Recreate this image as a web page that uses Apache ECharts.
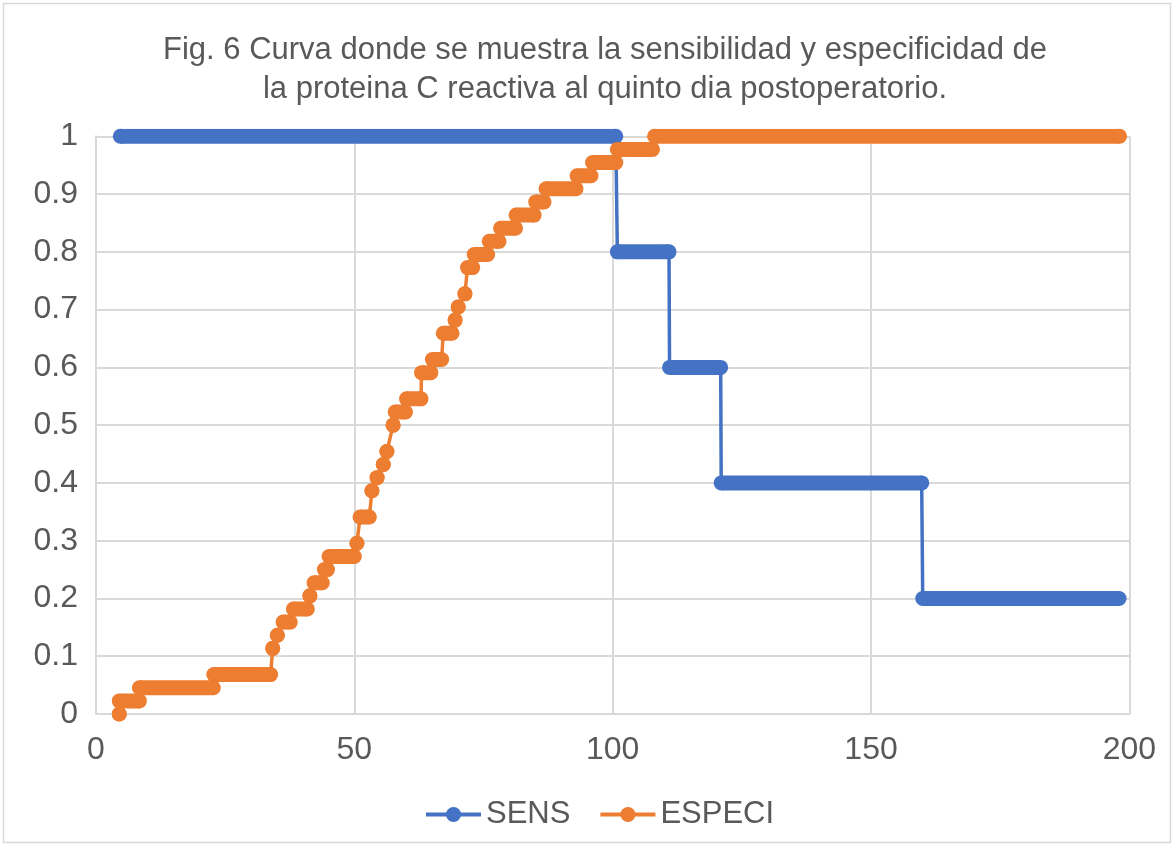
<!DOCTYPE html>
<html>
<head>
<meta charset="utf-8">
<script src="https://cdn.jsdelivr.net/npm/echarts@6/dist/echarts.min.js"></script>
<style>
html,body{margin:0;padding:0;background:#fff;}
#c{width:1175px;height:847px;}
</style>
</head>
<body>
<div id="c"></div>
<script>
// ---- data (CRP cutoff, level runs) ----
const titleLines = ['Fig. 6 Curva donde se muestra la sensibilidad y especificidad de',
                    'la proteina C reactiva al quinto dia postoperatorio.'];
const seriesNames = ['SENS', 'ESPECI'];
const xTicks = [0, 50, 100, 150, 200];
const yTicks = [0, 0.1, 0.2, 0.3, 0.4, 0.5, 0.6, 0.7, 0.8, 0.9, 1];

// SENS: each run = [from, to] at a level
const sensFrom  = [4.7, 100.9, 111.0, 121.0, 160.0];
const sensTo    = [100.6, 110.9, 120.9, 159.8, 198.0];
const sensLevel = [1, 0.8, 0.6, 0.4, 0.2];

// ESPECI
const especiFrom  = [4.5, 4.5, 8.4, 22.8, 34.2, 35.1, 36.2, 38.2, 41.4, 42.2, 44.2, 45.1, 50.5, 51.1, 53.4, 54.4, 55.6, 56.3, 57.5, 57.9, 60.1, 63.0, 65.1, 67.2, 69.5, 70.1, 71.4, 71.9, 73.2, 76.1, 78.3, 81.3, 85.1, 87.1, 93.1, 96.1, 100.9, 108.1];
const especiTo    = [4.5, 8.4, 22.7, 33.8, 34.2, 35.1, 37.6, 40.9, 41.4, 43.8, 44.8, 50.0, 50.5, 52.9, 53.4, 54.4, 55.6, 56.3, 57.5, 59.9, 62.9, 64.8, 66.9, 68.9, 69.5, 70.1, 71.4, 72.9, 75.8, 78.0, 81.2, 84.8, 86.7, 92.9, 95.8, 100.6, 107.7, 198.1];
const especiLevel = [0, 0.0227, 0.0455, 0.0682, 0.1136, 0.1364, 0.1591, 0.1818, 0.2045, 0.2273, 0.25, 0.2727, 0.2955, 0.3409, 0.3864, 0.4091, 0.4318, 0.4545, 0.5, 0.5227, 0.5455, 0.5909, 0.6136, 0.6591, 0.6818, 0.7045, 0.7273, 0.7727, 0.7955, 0.8182, 0.8409, 0.8636, 0.8864, 0.9091, 0.9318, 0.9545, 0.9773, 1];

const BLUE = '#4472C4', ORANGE = '#ED7D31', TXT = '#595959';
const FONT = '"Liberation Sans", Arial, sans-serif';

function pathPoints(from, to, lev) {
  const pts = [];
  for (let i = 0; i < from.length; i++) { pts.push([from[i], lev[i]]); pts.push([to[i], lev[i]]); }
  return pts;
}
function runPoints(from, to, lev) {
  const pts = [];
  for (let i = 0; i < from.length; i++) { pts.push([from[i], lev[i]]); pts.push([to[i], lev[i]]); pts.push([to[i], '-']); }
  return pts;
}
function thin(name, color, data) {
  return { name, type: 'line', data, symbol: 'circle', showSymbol: false, connectNulls: false,
    lineStyle: { color, width: 3.5 }, itemStyle: { color }, animation: false, silent: true };
}
function thick(name, color, data) {
  return { name, type: 'line', data, symbol: 'circle', symbolSize: 15, showSymbol: true, connectNulls: false,
    lineStyle: { color, width: 15, cap: 'butt' }, itemStyle: { color, borderWidth: 0 }, animation: false, silent: true };
}

const chart = echarts.init(document.getElementById('c'), null, { renderer: 'canvas' });
chart.setOption({
  backgroundColor: '#fff',
  animation: false,
  title: {
    text: titleLines.join('\n'),
    left: 600, top: 26, textAlign: 'center',
    textStyle: { fontFamily: FONT, fontSize: 31, fontWeight: 'normal', color: TXT, lineHeight: 39 }
  },
  graphic: [{ type: 'rect', shape: { x: 3.5, y: 3.5, width: 1167, height: 839 },
    style: { fill: 'none', stroke: '#d9d9d9', lineWidth: 1.5 }, silent: true, z: -1 }],
  legend: {
    data: seriesNames, left: 419, top: 794, itemWidth: 55, itemHeight: 19, itemGap: 28,
    lineStyle: { width: 4 },
    textStyle: { fontFamily: FONT, fontSize: 31, color: TXT, padding: [0, 0, 0, 0] },
    selectedMode: false
  },
  grid: { left: 96, right: 45.6, top: 136.3, bottom: 133, containLabel: false },
  xAxis: {
    type: 'value', min: xTicks[0], max: xTicks[xTicks.length - 1], interval: xTicks[1] - xTicks[0],
    axisLine: { show: true, lineStyle: { color: '#d9d9d9', width: 2 } },
    axisTick: { show: false },
    splitLine: { show: true, lineStyle: { color: '#d9d9d9', width: 2 } },
    axisLabel: { fontFamily: FONT, fontSize: 32, color: TXT, margin: 20 }
  },
  yAxis: {
    type: 'value', min: yTicks[0], max: yTicks[yTicks.length - 1], interval: 0.1,
    axisLine: { show: true, lineStyle: { color: '#d9d9d9', width: 2 } },
    axisTick: { show: false },
    splitLine: { show: true, lineStyle: { color: '#d9d9d9', width: 2 } },
    axisLabel: { fontFamily: FONT, fontSize: 32, color: TXT, margin: 18 }
  },
  series: [
    thin(seriesNames[0], BLUE, pathPoints(sensFrom, sensTo, sensLevel)),
    thick(seriesNames[0], BLUE, runPoints(sensFrom, sensTo, sensLevel)),
    thin(seriesNames[1], ORANGE, pathPoints(especiFrom, especiTo, especiLevel)),
    thick(seriesNames[1], ORANGE, runPoints(especiFrom, especiTo, especiLevel))
  ]
});
</script>
</body>
</html>
